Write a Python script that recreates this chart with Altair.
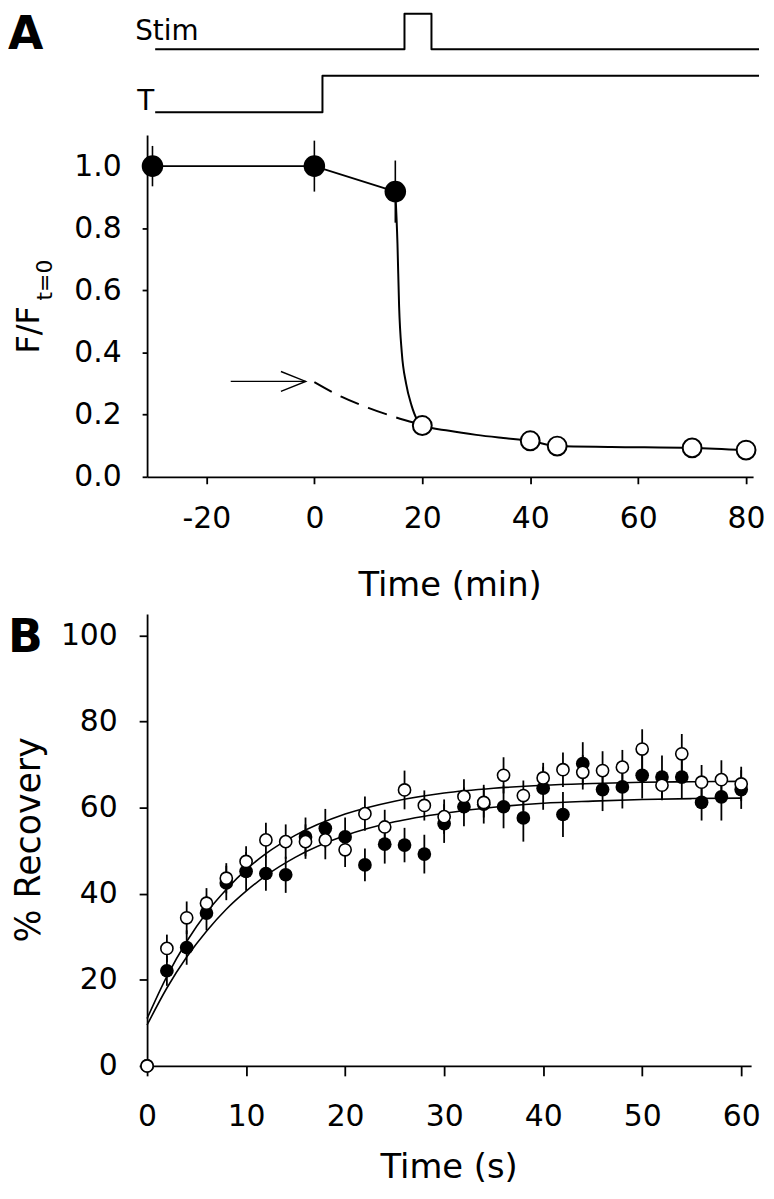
import altair as alt
import pandas as pd

FONT = "DejaVu Sans"

# ---------------- Panel A data ----------------
a_filled_t = [-30, 0, 15]
a_filled_v = [1.0, 1.0, 0.918]
a_filled_err = [0.065, 0.082, 0.10]
a_open_t = [20, 40, 45, 70, 80]
a_open_v = [0.165, 0.116, 0.099, 0.093, 0.086]

# solid line: straight part before the drop, smooth part after it
a_line_t = [-30, 0, 15]
a_line_v = [1.0, 1.0, 0.918]
a_curve_t = [15, 15.4, 15.7, 16.2, 17.0, 18.0, 19.0, 20, 25, 30, 35, 40, 45, 55, 70, 80]
a_curve_v = [0.918, 0.75, 0.55, 0.40, 0.30, 0.23, 0.185, 0.165, 0.148, 0.135,
             0.125, 0.116, 0.099, 0.096, 0.093, 0.086]
a_dash_t = [0, 5, 10, 15, 19]
a_dash_v = [0.305, 0.258, 0.222, 0.192, 0.172]

arrow_shaft_t = [-15.5, -1.6]
arrow_shaft_v = [0.307, 0.307]
arrow_head_t = [-6.2, -1.6, -6.2]
arrow_head_v = [0.339, 0.307, 0.275]

stim_t = [-29.5, 16.7, 16.7, 21.7, 21.7, 82.4]
stim_level = [0.64, 0.64, 1.0, 1.0, 0.64, 0.64]
temp_t = [-29.5, 1.5, 1.5, 82.4]
temp_level = [0.0, 0.0, 0.37, 0.37]

a_x_ticks = [-20, 0, 20, 40, 60, 80]
a_y_ticks = [0.0, 0.2, 0.4, 0.6, 0.8, 1.0]

# ---------------- Panel B data ----------------
b_t = [0, 2, 4, 6, 8, 10, 12, 14, 16, 18, 20, 22, 24, 26, 28, 30,
       32, 34, 36, 38, 40, 42, 44, 46, 48, 50, 52, 54, 56, 58, 60]
b_filled_v = [0, 22.1, 27.5, 35.5, 42.5, 45.2, 44.7, 44.4, 53.2, 55.2, 53.2, 46.7, 51.5, 51.3,
              49.2, 56.3, 60.2, 60.8, 60.2, 57.6, 64.5, 58.4, 70.2, 64.2, 64.8, 67.5, 67.1,
              67.1, 61.2, 62.5, 64.2]
b_filled_err = [0, 3.5, 4.0, 4.0, 4.0, 4.5, 4.0, 4.2, 4.5, 4.5, 4.5, 3.8, 4.5, 4.0, 4.5, 4.5,
                4.5, 4.5, 5.0, 5.5, 5.0, 5.2, 5.0, 5.0, 5.0, 5.4, 5.0, 5.0, 4.2, 5.5, 4.5]
b_open_v = [0, 27.3, 34.4, 37.8, 43.6, 47.5, 52.5, 52.1, 52.1, 52.5, 50.2, 58.6, 55.5, 64.1,
            60.5, 57.9, 62.6, 61.2, 67.5, 62.8, 66.9, 68.8, 68.2, 68.6, 69.4, 73.6, 65.2,
            72.5, 65.9, 66.5, 65.5]
b_open_err = [0, 3.2, 3.8, 3.5, 3.5, 3.5, 4.0, 4.0, 4.0, 4.5, 4.0, 4.0, 4.0, 4.5, 3.5, 4.0,
              4.0, 3.5, 4.2, 3.5, 3.5, 4.0, 4.0, 4.5, 4.0, 4.6, 3.5, 4.6, 4.0, 4.5, 4.0]

b_fit_t = [0, 2, 4, 6, 8, 10, 12, 15, 20, 25, 30, 35, 40, 45, 50, 55, 60]
b_fit_upper = [11.0, 20.8, 28.9, 35.6, 41.0, 45.6, 49.3, 53.6, 58.5, 61.5, 63.4, 64.5,
               65.2, 65.6, 65.9, 66.0, 66.1]
b_fit_lower = [9.5, 18.1, 25.3, 31.3, 36.4, 40.6, 44.2, 48.5, 53.5, 56.7, 58.7, 60.1,
               61.0, 61.5, 61.9, 62.1, 62.2]

b_x_ticks = [0, 10, 20, 30, 40, 50, 60]
b_y_ticks = [0, 20, 40, 60, 80, 100]

# ---------------- layout constants ----------------
WA, HA = 610, 344
WB, HB = 608, 455


# ---------------- helpers ----------------
def label(text, x, y, size, angle=0, align="left", bold=False, baseline="alphabetic"):
    return alt.Chart(pd.DataFrame({"s": [text]})).mark_text(
        align=align, baseline=baseline, fontSize=size, font=FONT, angle=angle,
        fontWeight="bold" if bold else "normal", color="black"
    ).encode(x=alt.value(x), y=alt.value(y), text="s:N")


def pts(t, v):
    return pd.DataFrame({"t": t, "v": v, "i": list(range(len(t)))})


# ---------------- Panel A ----------------
sxA = alt.Scale(domain=[-31, 81.3], nice=False, zero=False)
syA = alt.Scale(domain=[0, 1.1], nice=False, zero=False)
axA_x = alt.Axis(values=a_x_ticks, tickSize=7, labelPadding=20, title=None,
                 labelExpr="'' + datum.value", labelFlush=False, labelOverlap=False)
axA_y = alt.Axis(values=a_y_ticks, tickSize=5, labelPadding=21, title=None, format=".1f",
                 orient="left", labelFlush=False, labelOverlap=False)


def XA(f):
    return alt.X(f, scale=sxA, axis=axA_x)


def YA(f):
    return alt.Y(f, scale=syA, axis=axA_y)


dfA_f = pd.DataFrame({"t": a_filled_t, "v": a_filled_v,
                      "lo": [v - e for v, e in zip(a_filled_v, a_filled_err)],
                      "hi": [v + e for v, e in zip(a_filled_v, a_filled_err)]})

errA = alt.Chart(dfA_f).mark_rule(color="black", strokeWidth=1.6).encode(
    x=XA("t:Q"), y=YA("lo:Q"), y2="hi:Q")
lineA = alt.Chart(pts(a_line_t, a_line_v)).mark_line(
    color="black", strokeWidth=2).encode(
    x=XA("t:Q"), y=YA("v:Q"), order="i:Q")
curveA = alt.Chart(pts(a_curve_t, a_curve_v)).mark_line(
    color="black", strokeWidth=2, interpolate="monotone").encode(
    x=XA("t:Q"), y=YA("v:Q"), order="i:Q")
dashA = alt.Chart(pts(a_dash_t, a_dash_v)).mark_line(
    color="black", strokeWidth=2, strokeDash=[20, 10], interpolate="monotone").encode(
    x=XA("t:Q"), y=YA("v:Q"), order="i:Q")
shaftA = alt.Chart(pts(arrow_shaft_t, arrow_shaft_v)).mark_line(
    color="black", strokeWidth=1.4).encode(x=XA("t:Q"), y=YA("v:Q"), order="i:Q")
headA = alt.Chart(pts(arrow_head_t, arrow_head_v)).mark_line(
    color="black", strokeWidth=1.4).encode(x=XA("t:Q"), y=YA("v:Q"), order="i:Q")
filledA = alt.Chart(pts(a_filled_t, a_filled_v)).mark_circle(
    color="black", opacity=1, size=470).encode(x=XA("t:Q"), y=YA("v:Q"))
openA = alt.Chart(pts(a_open_t, a_open_v)).mark_circle(
    fill="white", stroke="black", strokeWidth=2, opacity=1, size=360).encode(
    x=XA("t:Q"), y=YA("v:Q"))

mainA = alt.layer(
    errA, lineA, curveA, dashA, shaftA, headA, filledA, openA,
    label("A", -140, -123, 46, bold=True, baseline="top"),
    label("Stim", -12, -96, 28),
    label("T", -10, -25, 28),
    label("F/F", -109, 196, 32, angle=270, align="center"),
    label("t=0", -96, 146, 22, angle=270, align="center"),
    label("Time (min)", WA / 2, HA + 120, 34, align="center"),
)

syT = alt.Scale(domain=[0, 1], range=[-23, -122])
stimL = alt.Chart(pd.DataFrame({"t": stim_t, "level": stim_level,
                                "i": list(range(len(stim_t)))})).mark_line(
    color="black", strokeWidth=2, strokeJoin="round").encode(
    x=XA("t:Q"), y=alt.Y("level:Q", scale=syT, axis=None), order="i:Q")
tempL = alt.Chart(pd.DataFrame({"t": temp_t, "level": temp_level,
                                "i": list(range(len(temp_t)))})).mark_line(
    color="black", strokeWidth=2, strokeJoin="round").encode(
    x=XA("t:Q"), y=alt.Y("level:Q", scale=syT, axis=None), order="i:Q")
traces = alt.layer(stimL, tempL)

chartA = alt.layer(traces, mainA).resolve_scale(y="independent").properties(width=WA, height=HA)

# ---------------- Panel B ----------------
sxB = alt.Scale(domain=[0, 61], nice=False, zero=False)
syB = alt.Scale(domain=[0, 105], nice=False, zero=False)
axB_x = alt.Axis(values=b_x_ticks, tickSize=10, labelPadding=26, title=None,
                 labelFlush=False, labelOverlap=False)
axB_y = alt.Axis(values=b_y_ticks, tickSize=8, labelPadding=22, title=None,
                 labelFlush=False, labelOverlap=False)


def XB(f):
    return alt.X(f, scale=sxB, axis=axB_x)


def YB(f):
    return alt.Y(f, scale=syB, axis=axB_y)


dfB_f = pd.DataFrame({"t": b_t, "v": b_filled_v,
                      "lo": [v - e for v, e in zip(b_filled_v, b_filled_err)],
                      "hi": [v + e for v, e in zip(b_filled_v, b_filled_err)]})
dfB_o = pd.DataFrame({"t": b_t, "v": b_open_v,
                      "lo": [v - e for v, e in zip(b_open_v, b_open_err)],
                      "hi": [v + e for v, e in zip(b_open_v, b_open_err)]})
dfFit = pd.DataFrame({
    "t": b_fit_t + b_fit_t,
    "v": b_fit_upper + b_fit_lower,
    "curve": ["upper"] * len(b_fit_t) + ["lower"] * len(b_fit_t),
})

errBf = alt.Chart(dfB_f).mark_rule(color="black", strokeWidth=1.8).encode(
    x=XB("t:Q"), y=YB("lo:Q"), y2="hi:Q")
errBo = alt.Chart(dfB_o).mark_rule(color="black", strokeWidth=1.8).encode(
    x=XB("t:Q"), y=YB("lo:Q"), y2="hi:Q")
fitB = alt.Chart(dfFit).mark_line(color="black", strokeWidth=1.6, interpolate="monotone").encode(
    x=XB("t:Q"), y=YB("v:Q"), detail="curve:N")
filledB = alt.Chart(dfB_f).mark_circle(color="black", opacity=1, size=190).encode(
    x=XB("t:Q"), y=YB("v:Q"))
openB = alt.Chart(dfB_o).mark_circle(fill="white", stroke="black", strokeWidth=1.6,
                                      opacity=1, size=150).encode(x=XB("t:Q"), y=YB("v:Q"))

chartB = alt.layer(
    errBf, errBo, fitB, filledB, openB,
    label("B", -140, 2, 46, bold=True, baseline="top"),
    label("% Recovery", -108, HB / 2, 35, angle=270, align="center"),
    label("Time (s)", WB / 2, HB + 113, 34, align="center"),
).properties(width=WB, height=HB)

chart = alt.vconcat(chartA, chartB, spacing=138, bounds="flush").properties(
    padding={"left": 0, "top": 0, "right": 0, "bottom": 0}, background="white"
).configure_view(stroke=None).configure_axis(
    labelFont=FONT, labelFontSize=30, labelColor="black",
    domainColor="black", tickColor="black", domainWidth=1.8, tickWidth=1.8,
    grid=False,
)

chart.save("out.html", embed_options={"renderer": "svg", "actions": False})
